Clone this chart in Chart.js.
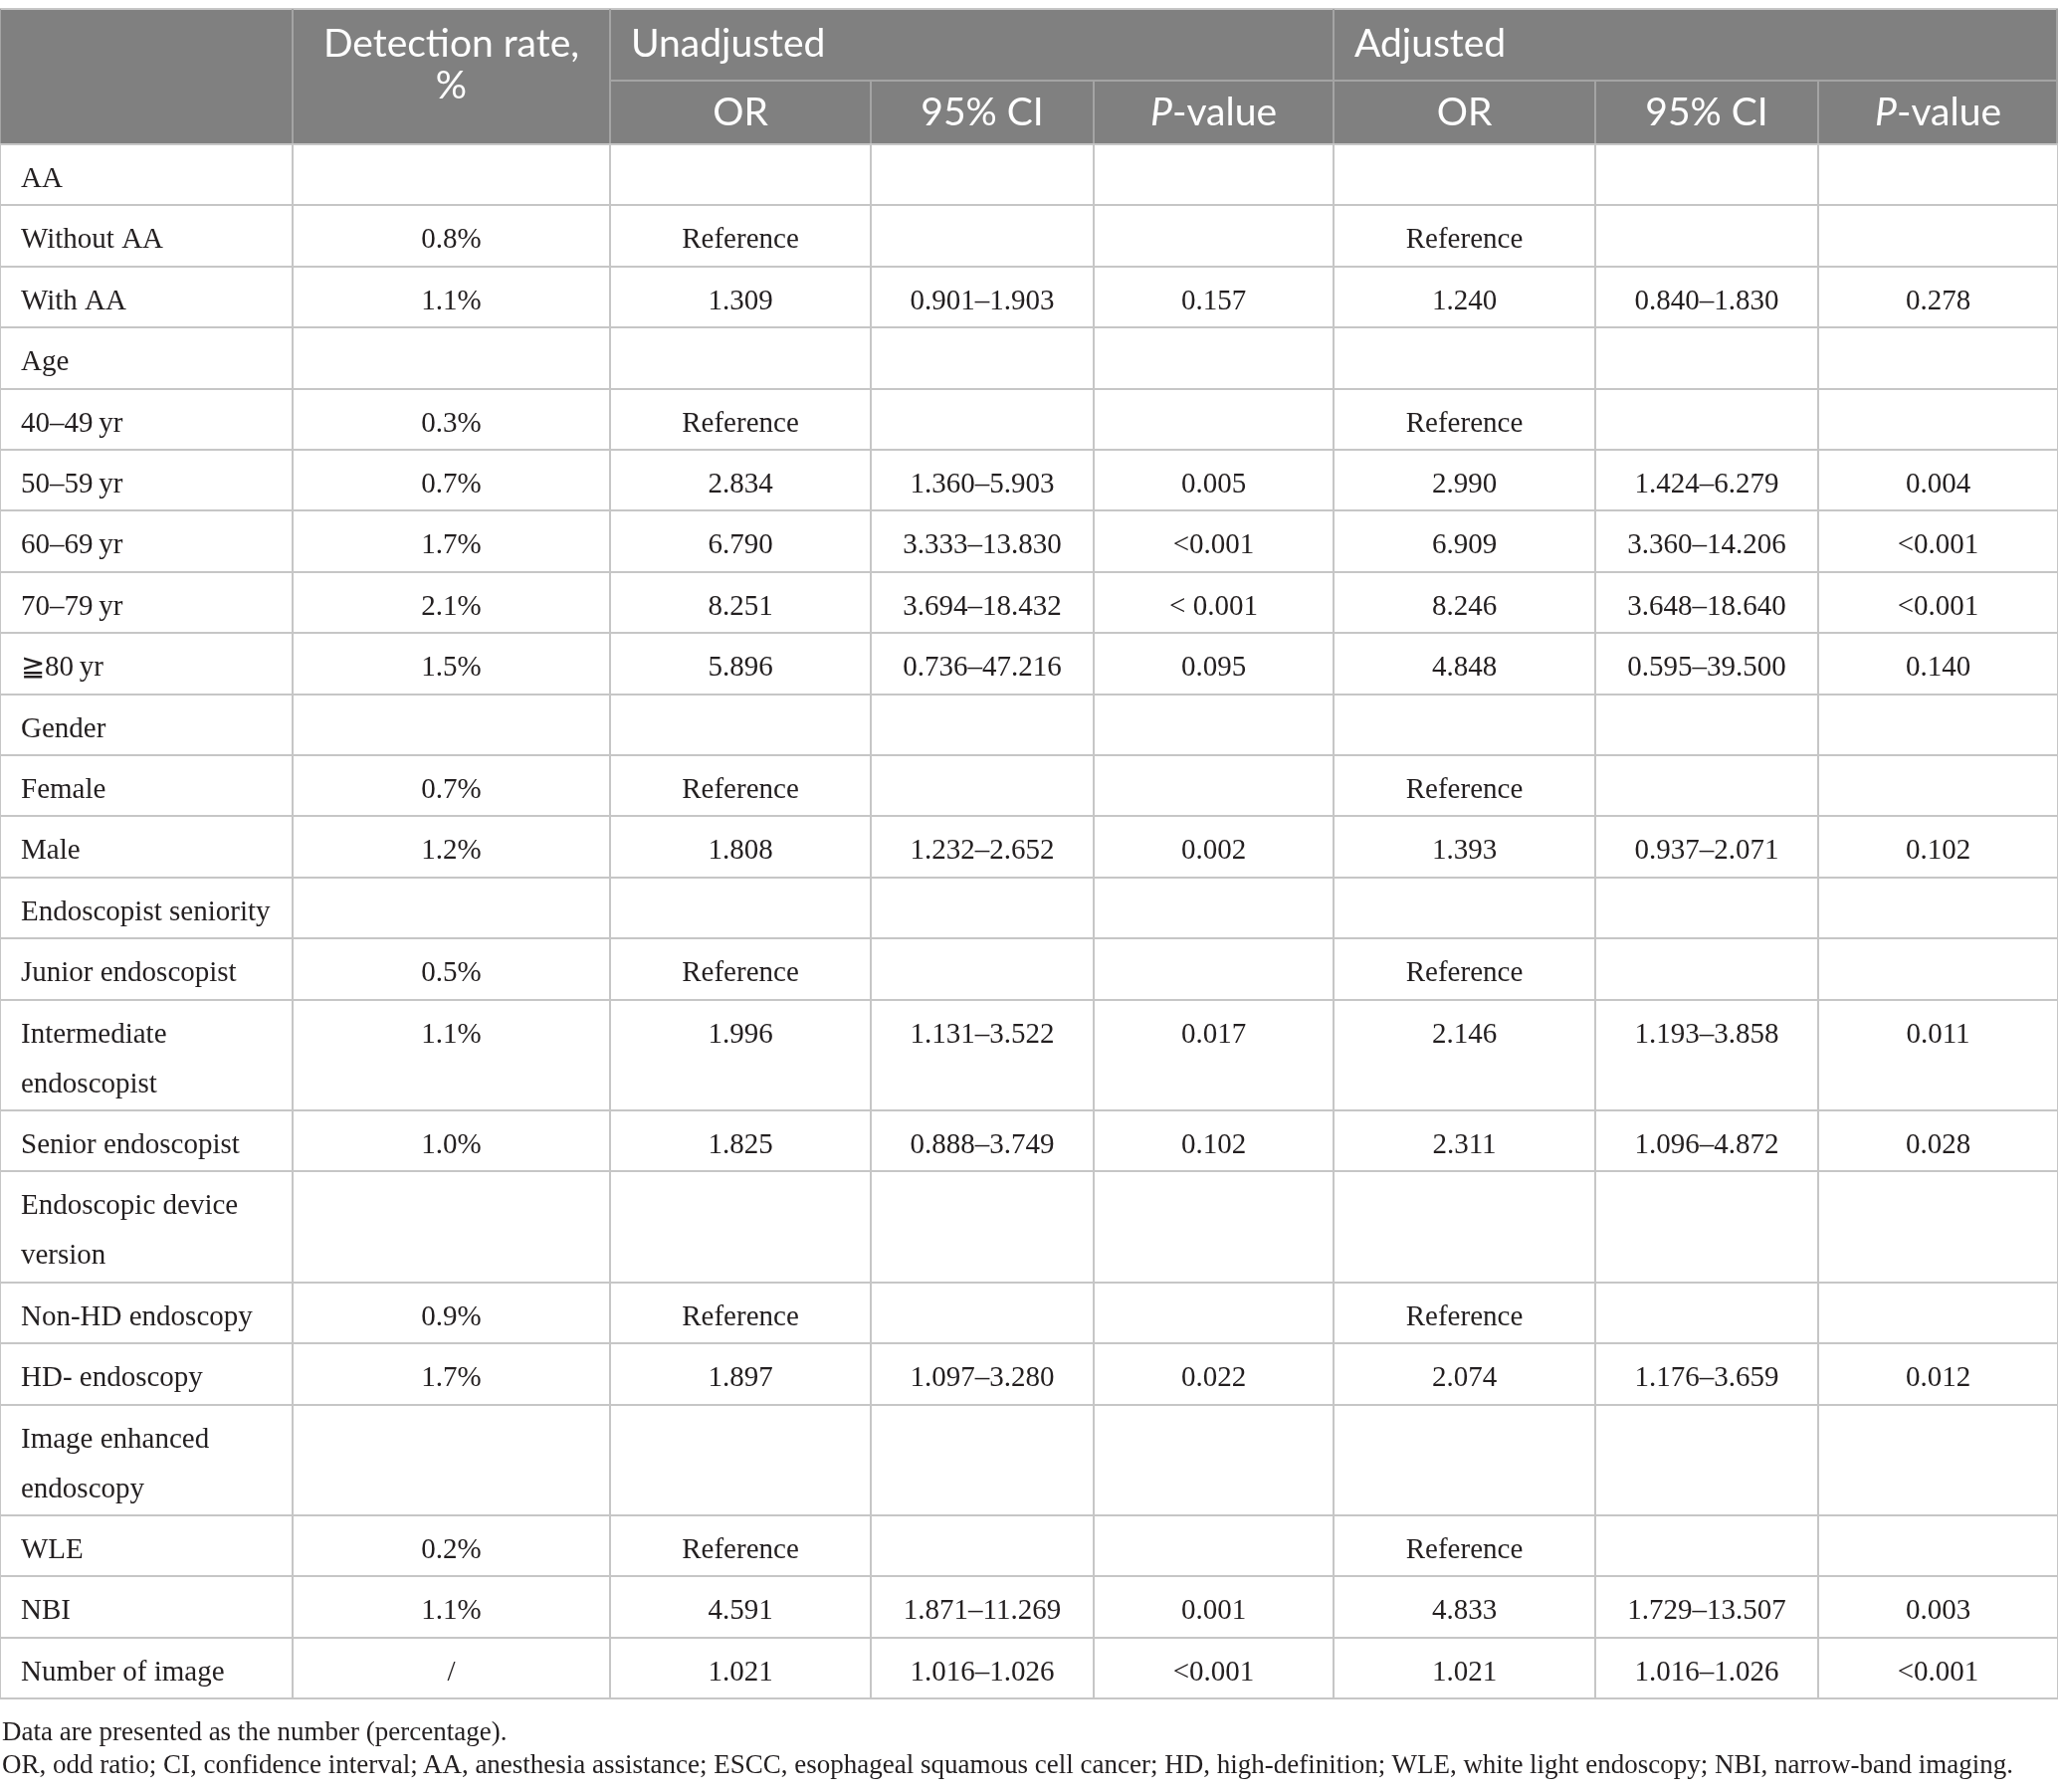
<!DOCTYPE html>
<html>
<head>
    <title>Detection rate and odds ratios</title>
    <script src="https://cdn.jsdelivr.net/npm/chart.js"></script>
    <style>
        body { margin: 0; background: #fff; overflow: hidden; }
        .wrap { position: relative; width: 2068px; height: 1801px; }
        .note { position: absolute; left: 2px; font-family: 'Liberation Serif', serif; font-size: 27px; line-height: 27px; color: #231f20; white-space: nowrap; }
    </style>
</head>
<body>
<div class="wrap">
    <canvas id="tableChart" width="2068" height="1801"></canvas>
    <div class="note" style="top:1727px">Data are presented as the number (percentage).</div>
    <div class="note" style="top:1760px">OR, odd ratio; CI, confidence interval; AA, anesthesia assistance; ESCC, esophageal squamous cell cancer; HD, high-definition; WLE, white light endoscopy; NBI, narrow-band imaging.</div>
</div>

<script>
    // table content
    const firstHeader = ['Detection rate,', '%'];
    const groupHeaders = ['Unadjusted', 'Adjusted'];
    const subHeaders = ['OR', '95% CI', 'P-value'];

    const rowLabels = ['AA', 'Without AA', 'With AA', 'Age', '40–49\u2009yr', '50–59\u2009yr', '60–69\u2009yr',
        '70–79\u2009yr', '≧80\u2009yr', 'Gender', 'Female', 'Male', 'Endoscopist seniority', 'Junior endoscopist',
        ['Intermediate', 'endoscopist'], 'Senior endoscopist', ['Endoscopic device', 'version'], 'Non-HD endoscopy',
        'HD- endoscopy', ['Image enhanced', 'endoscopy'], 'WLE', 'NBI', 'Number of image'];
    const detectionRate = ['', '0.8%', '1.1%', '', '0.3%', '0.7%', '1.7%', '2.1%', '1.5%', '', '0.7%', '1.2%', '',
        '0.5%', '1.1%', '1.0%', '', '0.9%', '1.7%', '', '0.2%', '1.1%', '/'];
    const unadjOR = ['', 'Reference', '1.309', '', 'Reference', '2.834', '6.790', '8.251', '5.896', '', 'Reference', '1.808', '',
        'Reference', '1.996', '1.825', '', 'Reference', '1.897', '', 'Reference', '4.591', '1.021'];
    const unadjCI = ['', '', '0.901–1.903', '', '', '1.360–5.903', '3.333–13.830', '3.694–18.432', '0.736–47.216', '', '', '1.232–2.652', '',
        '', '1.131–3.522', '0.888–3.749', '', '', '1.097–3.280', '', '', '1.871–11.269', '1.016–1.026'];
    const unadjP = ['', '', '0.157', '', '', '0.005', '<0.001', '< 0.001', '0.095', '', '', '0.002', '',
        '', '0.017', '0.102', '', '', '0.022', '', '', '0.001', '<0.001'];
    const adjOR = ['', 'Reference', '1.240', '', 'Reference', '2.990', '6.909', '8.246', '4.848', '', 'Reference', '1.393', '',
        'Reference', '2.146', '2.311', '', 'Reference', '2.074', '', 'Reference', '4.833', '1.021'];
    const adjCI = ['', '', '0.840–1.830', '', '', '1.424–6.279', '3.360–14.206', '3.648–18.640', '0.595–39.500', '', '', '0.937–2.071', '',
        '', '1.193–3.858', '1.096–4.872', '', '', '1.176–3.659', '', '', '1.729–13.507', '1.016–1.026'];
    const adjP = ['', '', '0.278', '', '', '0.004', '<0.001', '<0.001', '0.140', '', '', '0.102', '',
        '', '0.011', '0.028', '', '', '0.012', '', '', '0.003', '<0.001'];

    // layout
    const colWidths = [294, 319, 262, 224, 241, 263, 224, 241];
    const headerTop = 9, headerMid = 81, headerBottom = 145;
    const lineHeight = 50, rowPad = 11.4, cellPad = 21, firstBaseline = 43;
    const bodyFont = '29px "Liberation Serif", serif';
    const headFont = '39px Lato, sans-serif';
    const textColor = '#231f20';

    const cumulate = arr => arr.reduce((acc, w) => { acc.push(acc[acc.length - 1] + w); return acc; }, [0]);
    const lines = v => Array.isArray(v) ? v : [v];
    const colEdges = cumulate(colWidths);
    const rowEdges = cumulate(rowLabels.map(l => rowPad + lines(l).length * lineHeight));
    const columns = [rowLabels, detectionRate, unadjOR, unadjCI, unadjP, adjOR, adjCI, adjP];

    const datasets = columns.map((col, c) => ({
        data: col.map((v, i) => ({
            x: c === 0 ? colEdges[0] + cellPad : (colEdges[c] + colEdges[c + 1]) / 2,
            y: rowEdges[i],
            text: lines(v)
        })),
        align: c === 0 ? 'left' : 'center',
        pointRadius: 0,
        showLine: false
    }));

    const cellText = {
        id: 'cellText',
        afterDatasetsDraw(chart) {
            const ctx = chart.ctx;
            ctx.save();
            ctx.font = bodyFont;
            ctx.fillStyle = textColor;
            ctx.textBaseline = 'alphabetic';
            chart.data.datasets.forEach((ds, d) => {
                ctx.textAlign = ds.align;
                chart.getDatasetMeta(d).data.forEach((pt, i) => {
                    ds.data[i].text.forEach((t, k) => ctx.fillText(t, pt.x, pt.y + firstBaseline + k * lineHeight));
                });
            });
            ctx.restore();
        }
    };

    function drawSubHeader(ctx, label, cx, y) {
        // italic P in "P-value"
        if (label.startsWith('P-')) {
            ctx.font = 'italic ' + headFont;
            const wP = ctx.measureText('P').width;
            ctx.font = headFont;
            const wRest = ctx.measureText(label.slice(1)).width;
            const left = cx - (wP + wRest) / 2;
            ctx.textAlign = 'left';
            ctx.font = 'italic ' + headFont;
            ctx.fillText('P', left, y);
            ctx.font = headFont;
            ctx.fillText(label.slice(1), left + wP, y);
        } else {
            ctx.textAlign = 'center';
            ctx.font = headFont;
            ctx.fillText(label, cx, y);
        }
    }

    const header = {
        id: 'header',
        beforeDraw(chart) {
            const ctx = chart.ctx;
            const xs = chart.scales.x;
            const px = v => xs.getPixelForValue(v);
            const right = px(colEdges[colEdges.length - 1]);
            ctx.save();
            ctx.fillStyle = '#808080';
            ctx.fillRect(px(0), headerTop, right - px(0), headerBottom - headerTop);

            ctx.strokeStyle = '#c6c6c6';
            ctx.lineWidth = 2;
            ctx.beginPath();
            ctx.moveTo(px(0), headerTop); ctx.lineTo(right, headerTop);
            ctx.stroke();

            ctx.strokeStyle = '#a4a4a4';
            ctx.beginPath();
            [1, 2, 5].forEach(c => { ctx.moveTo(px(colEdges[c]), headerTop); ctx.lineTo(px(colEdges[c]), headerBottom); });
            [3, 4, 6, 7].forEach(c => { ctx.moveTo(px(colEdges[c]), headerMid); ctx.lineTo(px(colEdges[c]), headerBottom); });
            ctx.moveTo(px(colEdges[2]), headerMid); ctx.lineTo(right, headerMid);
            ctx.moveTo(px(0), headerTop); ctx.lineTo(px(0), headerBottom);
            ctx.moveTo(right - 1, headerTop); ctx.lineTo(right - 1, headerBottom);
            ctx.stroke();

            ctx.fillStyle = '#ffffff';
            ctx.textBaseline = 'alphabetic';
            ctx.font = headFont;
            ctx.textAlign = 'center';
            const c1 = px((colEdges[1] + colEdges[2]) / 2);
            ctx.fillText(firstHeader[0], c1, 57);
            ctx.fillText(firstHeader[1], c1, 99);

            ctx.textAlign = 'left';
            groupHeaders.forEach((g, k) => ctx.fillText(g, px(colEdges[2 + k * 3] + cellPad), 57));

            for (let c = 2; c < 8; c++) {
                drawSubHeader(ctx, subHeaders[(c - 2) % 3], px((colEdges[c] + colEdges[c + 1]) / 2), 126);
            }
            ctx.restore();
        }
    };

    const gridStyle = { color: '#c6c6c6', lineWidth: 2, drawTicks: false };

    new Chart(document.getElementById('tableChart'), {
        type: 'scatter',
        data: { datasets: datasets },
        options: {
            responsive: false,
            devicePixelRatio: 1,
            animation: false,
            events: [],
            layout: { padding: { top: headerBottom, bottom: 1801 - headerBottom - rowEdges[rowEdges.length - 1], left: 0, right: 0 } },
            plugins: { legend: { display: false }, tooltip: { enabled: false } },
            scales: {
                x: {
                    type: 'linear', min: 0, max: colEdges[colEdges.length - 1],
                    afterBuildTicks: s => { s.ticks = colEdges.map(value => ({ value })); },
                    ticks: { display: false }, grid: gridStyle, border: { display: false }
                },
                y: {
                    type: 'linear', reverse: true, min: 0, max: rowEdges[rowEdges.length - 1],
                    afterBuildTicks: s => { s.ticks = rowEdges.map(value => ({ value })); },
                    ticks: { display: false }, grid: gridStyle, border: { display: false }
                }
            }
        },
        plugins: [header, cellText]
    });
</script>
</body>
</html>
